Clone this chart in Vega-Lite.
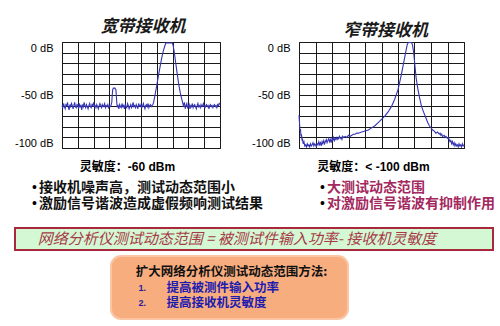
{
  "$schema": "https://vega.github.io/schema/vega-lite/v6.json",
  "background": "white",
  "padding": {"left": 13, "top": 17, "right": 0, "bottom": 0},
  "config": {
    "view": {"stroke": null},
    "font": "Liberation Sans",
    "text": {"font": "Noto Sans CJK SC"}
  },
  "datasets": {
    "wide": [
      {"freq": 0, "level": -60}, {"freq": 0.5, "level": -62}, {"freq": 1, "level": -58}, {"freq": 1.5, "level": -61}, {"freq": 2, "level": -63}, {"freq": 2.5, "level": -59}, {"freq": 3, "level": -60}, {"freq": 3.5, "level": -57}, {"freq": 4, "level": -62}, {"freq": 4.5, "level": -64}, {"freq": 5, "level": -59}, {"freq": 5.5, "level": -61}, {"freq": 6, "level": -58}, {"freq": 6.5, "level": -60}, {"freq": 7, "level": -63}, {"freq": 7.5, "level": -60}, {"freq": 8, "level": -57}, {"freq": 8.5, "level": -61}, {"freq": 9, "level": -62}, {"freq": 9.5, "level": -59},
      {"freq": 10, "level": -60}, {"freq": 10.5, "level": -63}, {"freq": 11, "level": -58}, {"freq": 11.5, "level": -61}, {"freq": 12, "level": -60}, {"freq": 12.5, "level": -64}, {"freq": 13, "level": -59}, {"freq": 13.5, "level": -61}, {"freq": 14, "level": -57}, {"freq": 14.5, "level": -60}, {"freq": 15, "level": -62}, {"freq": 15.5, "level": -59}, {"freq": 16, "level": -61}, {"freq": 16.5, "level": -63}, {"freq": 17, "level": -60}, {"freq": 17.5, "level": -58}, {"freq": 18, "level": -61}, {"freq": 18.5, "level": -62}, {"freq": 19, "level": -59}, {"freq": 19.5, "level": -60},
      {"freq": 20, "level": -57}, {"freq": 20.5, "level": -61}, {"freq": 21, "level": -60}, {"freq": 21.5, "level": -62}, {"freq": 22, "level": -59}, {"freq": 22.5, "level": -61}, {"freq": 23, "level": -63}, {"freq": 23.5, "level": -60}, {"freq": 24, "level": -58}, {"freq": 24.5, "level": -60}, {"freq": 25, "level": -62}, {"freq": 25.5, "level": -59}, {"freq": 26, "level": -61}, {"freq": 26.5, "level": -60}, {"freq": 27, "level": -58}, {"freq": 27.5, "level": -62}, {"freq": 28, "level": -60}, {"freq": 28.5, "level": -61}, {"freq": 29, "level": -59}, {"freq": 29.5, "level": -62},
      {"freq": 30, "level": -60}, {"freq": 30.5, "level": -61}, {"freq": 31, "level": -60}, {"freq": 31.5, "level": -57}, {"freq": 31.8, "level": -50}, {"freq": 32.1, "level": -45}, {"freq": 32.5, "level": -43.5}, {"freq": 33.5, "level": -43.5}, {"freq": 34.1, "level": -45}, {"freq": 34.4, "level": -51}, {"freq": 34.7, "level": -58}, {"freq": 35, "level": -61},
      {"freq": 35.5, "level": -60}, {"freq": 36, "level": -63}, {"freq": 36.5, "level": -59}, {"freq": 37, "level": -61}, {"freq": 37.5, "level": -62}, {"freq": 38, "level": -58}, {"freq": 38.5, "level": -61}, {"freq": 39, "level": -60}, {"freq": 39.5, "level": -63},
      {"freq": 40, "level": -59}, {"freq": 40.5, "level": -61}, {"freq": 41, "level": -62}, {"freq": 41.5, "level": -58}, {"freq": 42, "level": -60}, {"freq": 42.5, "level": -63}, {"freq": 43, "level": -61}, {"freq": 43.5, "level": -59}, {"freq": 44, "level": -62}, {"freq": 44.5, "level": -60}, {"freq": 45, "level": -57}, {"freq": 45.5, "level": -61}, {"freq": 46, "level": -60}, {"freq": 46.5, "level": -62}, {"freq": 47, "level": -59}, {"freq": 47.5, "level": -61}, {"freq": 48, "level": -63}, {"freq": 48.5, "level": -58}, {"freq": 49, "level": -60}, {"freq": 49.5, "level": -61},
      {"freq": 50, "level": -59}, {"freq": 50.5, "level": -62}, {"freq": 51, "level": -60}, {"freq": 51.5, "level": -58}, {"freq": 52, "level": -61}, {"freq": 52.5, "level": -63}, {"freq": 53, "level": -60}, {"freq": 53.5, "level": -59}, {"freq": 54, "level": -61}, {"freq": 54.5, "level": -58}, {"freq": 55, "level": -62}, {"freq": 55.5, "level": -60}, {"freq": 56, "level": -59}, {"freq": 56.5, "level": -61}, {"freq": 57, "level": -60}, {"freq": 57.5, "level": -59},
      {"freq": 58, "level": -57}, {"freq": 58.5, "level": -53}, {"freq": 59, "level": -49}, {"freq": 60, "level": -41}, {"freq": 61, "level": -32}, {"freq": 62, "level": -24}, {"freq": 63, "level": -16}, {"freq": 64, "level": -9}, {"freq": 65, "level": -4}, {"freq": 65.7, "level": -1}, {"freq": 69.8, "level": -1}, {"freq": 70.3, "level": -3}, {"freq": 71, "level": -9}, {"freq": 72, "level": -20}, {"freq": 73, "level": -31}, {"freq": 74, "level": -41}, {"freq": 75, "level": -49}, {"freq": 76, "level": -55}, {"freq": 76.8, "level": -60},
      {"freq": 77.5, "level": -57}, {"freq": 78, "level": -63}, {"freq": 78.5, "level": -60}, {"freq": 79, "level": -58}, {"freq": 79.5, "level": -62},
      {"freq": 80, "level": -61}, {"freq": 80.5, "level": -59}, {"freq": 81, "level": -63}, {"freq": 81.5, "level": -60}, {"freq": 82, "level": -61}, {"freq": 82.5, "level": -58}, {"freq": 83, "level": -62}, {"freq": 83.5, "level": -60}, {"freq": 84, "level": -59}, {"freq": 84.5, "level": -61}, {"freq": 85, "level": -63}, {"freq": 85.5, "level": -60}, {"freq": 86, "level": -58}, {"freq": 86.5, "level": -61}, {"freq": 87, "level": -60}, {"freq": 87.5, "level": -62}, {"freq": 88, "level": -59}, {"freq": 88.5, "level": -61}, {"freq": 89, "level": -60}, {"freq": 89.5, "level": -58},
      {"freq": 90, "level": -61}, {"freq": 90.5, "level": -62}, {"freq": 91, "level": -60}, {"freq": 91.5, "level": -59}, {"freq": 92, "level": -61}, {"freq": 92.5, "level": -60}, {"freq": 93, "level": -63}, {"freq": 93.5, "level": -60}, {"freq": 94, "level": -59}, {"freq": 94.5, "level": -61}, {"freq": 95, "level": -60}, {"freq": 95.5, "level": -62}, {"freq": 96, "level": -60}, {"freq": 96.5, "level": -59}, {"freq": 97, "level": -61}, {"freq": 97.5, "level": -60}, {"freq": 98, "level": -62}, {"freq": 98.5, "level": -59}, {"freq": 99, "level": -60}, {"freq": 99.5, "level": -58}, {"freq": 100, "level": -59}
    ],
    "narrow": [
      {"freq": 0, "level": -69}, {"freq": 0.3, "level": -76}, {"freq": 0.6, "level": -84}, {"freq": 0.9, "level": -82}, {"freq": 1.2, "level": -89}, {"freq": 1.5, "level": -87}, {"freq": 1.8, "level": -93}, {"freq": 2.1, "level": -91}, {"freq": 2.5, "level": -96}, {"freq": 3, "level": -94}, {"freq": 3.5, "level": -98}, {"freq": 4, "level": -97}, {"freq": 4.5, "level": -99}, {"freq": 5, "level": -96}, {"freq": 5.5, "level": -98}, {"freq": 6, "level": -97}, {"freq": 6.5, "level": -99}, {"freq": 7, "level": -96}, {"freq": 7.5, "level": -98}, {"freq": 8, "level": -97}, {"freq": 8.5, "level": -95}, {"freq": 9, "level": -98}, {"freq": 9.5, "level": -96},
      {"freq": 10, "level": -97}, {"freq": 10.5, "level": -99}, {"freq": 11, "level": -96}, {"freq": 11.5, "level": -97}, {"freq": 12, "level": -94}, {"freq": 12.5, "level": -97}, {"freq": 13, "level": -95}, {"freq": 13.5, "level": -98}, {"freq": 14, "level": -94}, {"freq": 14.5, "level": -96}, {"freq": 15, "level": -93}, {"freq": 15.5, "level": -96}, {"freq": 16, "level": -94}, {"freq": 16.5, "level": -92}, {"freq": 17, "level": -95}, {"freq": 17.5, "level": -93}, {"freq": 18, "level": -91}, {"freq": 18.5, "level": -94}, {"freq": 19, "level": -92}, {"freq": 19.5, "level": -95},
      {"freq": 20, "level": -91}, {"freq": 20.5, "level": -93}, {"freq": 21, "level": -90}, {"freq": 21.5, "level": -93}, {"freq": 22, "level": -91}, {"freq": 22.5, "level": -92}, {"freq": 23, "level": -90}, {"freq": 23.5, "level": -92}, {"freq": 24, "level": -91}, {"freq": 24.5, "level": -89}, {"freq": 25, "level": -91}, {"freq": 25.5, "level": -90}, {"freq": 26, "level": -92}, {"freq": 26.5, "level": -89}, {"freq": 27, "level": -90}, {"freq": 28, "level": -89}, {"freq": 29, "level": -90},
      {"freq": 30, "level": -88}, {"freq": 31, "level": -89}, {"freq": 32, "level": -88}, {"freq": 33, "level": -87}, {"freq": 34, "level": -87}, {"freq": 35, "level": -86}, {"freq": 36, "level": -86}, {"freq": 38, "level": -85}, {"freq": 40, "level": -84}, {"freq": 42, "level": -83}, {"freq": 44, "level": -81}, {"freq": 46, "level": -79}, {"freq": 48, "level": -76}, {"freq": 50, "level": -73}, {"freq": 52, "level": -70}, {"freq": 54, "level": -66}, {"freq": 56, "level": -61}, {"freq": 58, "level": -54},
      {"freq": 60, "level": -45}, {"freq": 61, "level": -38}, {"freq": 62, "level": -31}, {"freq": 63, "level": -23}, {"freq": 64, "level": -15}, {"freq": 65, "level": -7}, {"freq": 65.6, "level": -2.5}, {"freq": 66.2, "level": -0.5}, {"freq": 68.2, "level": -0.5}, {"freq": 68.8, "level": -3}, {"freq": 69.5, "level": -10}, {"freq": 70.3, "level": -23}, {"freq": 71, "level": -34}, {"freq": 72, "level": -44}, {"freq": 73, "level": -52}, {"freq": 74, "level": -59}, {"freq": 75, "level": -64}, {"freq": 76, "level": -68}, {"freq": 77, "level": -72}, {"freq": 78, "level": -76}, {"freq": 79, "level": -79},
      {"freq": 80, "level": -81}, {"freq": 81, "level": -83}, {"freq": 82, "level": -84}, {"freq": 83, "level": -86}, {"freq": 84, "level": -85}, {"freq": 85, "level": -87}, {"freq": 85.5, "level": -86}, {"freq": 86, "level": -88}, {"freq": 86.5, "level": -87}, {"freq": 87, "level": -89}, {"freq": 88, "level": -88}, {"freq": 88.5, "level": -90}, {"freq": 89, "level": -89},
      {"freq": 90, "level": -91}, {"freq": 90.5, "level": -90}, {"freq": 91, "level": -92}, {"freq": 91.5, "level": -94}, {"freq": 92, "level": -93}, {"freq": 92.5, "level": -96}, {"freq": 93, "level": -94}, {"freq": 93.5, "level": -97}, {"freq": 94, "level": -95}, {"freq": 94.5, "level": -98}, {"freq": 95, "level": -96}, {"freq": 95.5, "level": -98}, {"freq": 96, "level": -97}, {"freq": 96.5, "level": -99}, {"freq": 97, "level": -96}, {"freq": 97.5, "level": -98}, {"freq": 98, "level": -97}, {"freq": 98.5, "level": -99}, {"freq": 99, "level": -96}, {"freq": 99.5, "level": -98}, {"freq": 100, "level": -97}
    ],
    "notes": [
      {"receiver": "宽带接收机", "line": 1, "text": "接收机噪声高，测试动态范围小"},
      {"receiver": "宽带接收机", "line": 2, "text": "激励信号谐波造成虚假频响测试结果"},
      {"receiver": "窄带接收机", "line": 1, "text": "大测试动态范围"},
      {"receiver": "窄带接收机", "line": 2, "text": "对激励信号谐波有抑制作用"}
    ],
    "methods": [
      {"num": "", "text": "扩大网络分析仪测试动态范围方法:"},
      {"num": "1.", "text": "提高被测件输入功率"},
      {"num": "2.", "text": "提高接收机灵敏度"}
    ]
  },
  "spacing": 4,
  "vconcat": [
    {
      "bounds": "flush",
      "spacing": 0,
      "hconcat": [
        {"width": 47, "height": 106, "data": {"values": []}, "mark": "text"},
        {
          "width": 158,
          "height": 106,
          "view": {"stroke": "#1a1a1a", "strokeWidth": 1},
          "title": {"text": "宽带接收机", "font": "Noto Sans CJK SC", "fontSize": 17, "fontWeight": "bold", "fontStyle": "italic", "color": "#1a1a1a", "offset": 5, "dx": 2},
          "data": {"name": "wide"},
          "mark": {"type": "line", "color": "#3434b4", "strokeWidth": 1.1},
          "encoding": {
            "x": {
              "field": "freq", "type": "quantitative",
              "scale": {"domain": [0, 100], "nice": false, "zero": false},
              "axis": {
                "title": "灵敏度：-60 dBm",
                "values": [0, 10, 20, 30, 40, 50, 60, 70, 80, 90, 100],
                "labels": false, "ticks": false, "domain": false,
                "grid": true, "gridColor": "#1a1a1a", "gridOpacity": 1, "gridWidth": 1,
                "titleFont": "Liberation Sans, Noto Sans CJK SC", "titleFontSize": 12, "titleFontWeight": "bold", "titleColor": "black",
                "titlePadding": 13, "titleX": 65
              }
            },
            "y": {
              "field": "level", "type": "quantitative",
              "scale": {"domain": [-100, 0], "nice": false},
              "axis": {
                "title": null,
                "values": [0, -10, -20, -30, -40, -50, -60, -70, -80, -90, -100],
                "labelExpr": "datum.value % 50 === 0 ? datum.value + ' dB' : ''",
                "ticks": false, "domain": false,
                "grid": true, "gridColor": "#1a1a1a", "gridOpacity": 1, "gridWidth": 1,
                "labelFont": "Liberation Sans", "labelFontSize": 11, "labelColor": "black",
                "labelPadding": 9, "labelFlush": true, "labelOverlap": false
              }
            }
          }
        },
        {"width": 79, "height": 106, "data": {"values": []}, "mark": "text"},
        {
          "width": 165,
          "height": 106,
          "view": {"stroke": "#1a1a1a", "strokeWidth": 1},
          "title": {"text": "窄带接收机", "font": "Noto Sans CJK SC", "fontSize": 17, "fontWeight": "bold", "fontStyle": "italic", "color": "#1a1a1a", "offset": 0, "dx": 4},
          "data": {"name": "narrow"},
          "mark": {"type": "line", "color": "#3434b4", "strokeWidth": 1.1},
          "encoding": {
            "x": {
              "field": "freq", "type": "quantitative",
              "scale": {"domain": [0, 100], "nice": false, "zero": false},
              "axis": {
                "title": "灵敏度：< -100 dBm",
                "values": [0, 10, 20, 30, 40, 50, 60, 70, 80, 90, 100],
                "labels": false, "ticks": false, "domain": false,
                "grid": true, "gridColor": "#1a1a1a", "gridOpacity": 1, "gridWidth": 1,
                "titleFont": "Liberation Sans, Noto Sans CJK SC", "titleFontSize": 12, "titleFontWeight": "bold", "titleColor": "black",
                "titlePadding": 13, "titleX": 74
              }
            },
            "y": {
              "field": "level", "type": "quantitative",
              "scale": {"domain": [-100, 0], "nice": false},
              "axis": {
                "title": null,
                "values": [0, -10, -20, -30, -40, -50, -60, -70, -80, -90, -100],
                "labelExpr": "datum.value % 50 === 0 ? datum.value + ' dB' : ''",
                "ticks": false, "domain": false,
                "grid": true, "gridColor": "#1a1a1a", "gridOpacity": 1, "gridWidth": 1,
                "labelFont": "Liberation Sans", "labelFontSize": 11, "labelColor": "black",
                "labelPadding": 9, "labelFlush": true, "labelOverlap": false
              }
            }
          }
        }
      ]
    },
    {
      "width": 485,
      "height": 46,
      "data": {"name": "notes"},
      "encoding": {
        "x": {"field": "receiver", "type": "nominal", "scale": {"type": "point", "padding": 0.342, "align": 0.086}, "axis": null},
        "y": {"field": "line", "type": "ordinal", "scale": {"type": "point", "padding": 0.9375, "align": 0.37}, "axis": null}
      },
      "layer": [
        {"mark": {"type": "text", "text": "•", "align": "left", "fontSize": 14, "color": "black", "font": "Liberation Sans"}},
        {
          "mark": {"type": "text", "align": "left", "dx": 7, "fontSize": 14, "fontWeight": "bold"},
          "encoding": {
            "text": {"field": "text"},
            "color": {"field": "receiver", "type": "nominal", "scale": {"domain": ["宽带接收机", "窄带接收机"], "range": ["#111111", "#a3285e"]}, "legend": null}
          }
        }
      ]
    },
    {
      "width": 478,
      "height": 22,
      "view": {"fill": "#d3f8d3", "stroke": "#a8283c", "strokeWidth": 2},
      "data": {"values": [{"formula": "网络分析仪测试动态范围 = 被测试件输入功率- 接收机灵敏度"}]},
      "mark": {"type": "text", "fontStyle": "italic", "fontSize": 15, "color": "#a83a48", "dx": -17},
      "encoding": {"text": {"field": "formula"}}
    },
    {
      "spacing": 0,
      "hconcat": [
        {"width": 95, "height": 63, "data": {"values": []}, "mark": "text"},
        {
          "width": 237,
          "height": 63,
          "view": {"fill": "#f8ad7f", "stroke": "#fac6a4", "strokeWidth": 2, "cornerRadius": 10},
          "data": {"name": "methods"},
          "encoding": {
            "y": {"field": "text", "type": "nominal", "sort": null, "scale": {"type": "point", "padding": 1.1, "align": 0.5}, "axis": null}
          },
          "layer": [
            {
              "transform": [{"filter": "datum.num === ''"}],
              "mark": {"type": "text", "fontSize": 12.5, "fontWeight": "bold", "color": "#111111", "dx": 2},
              "encoding": {"text": {"field": "text"}}
            },
            {
              "transform": [{"filter": "datum.num !== ''"}],
              "mark": {"type": "text", "align": "left", "fontSize": 9, "fontWeight": "bold", "color": "#1c1c9c", "font": "Liberation Sans", "dx": -91},
              "encoding": {"text": {"field": "num"}}
            },
            {
              "transform": [{"filter": "datum.num !== ''"}],
              "mark": {"type": "text", "align": "left", "fontSize": 12.5, "fontWeight": "bold", "color": "#1c1cb0", "dx": -63},
              "encoding": {"text": {"field": "text"}}
            }
          ]
        }
      ]
    }
  ]
}
